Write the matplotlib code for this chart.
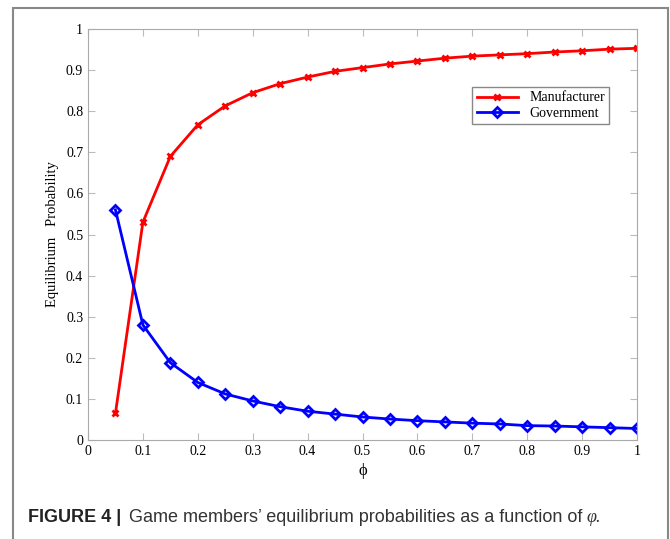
import matplotlib.pyplot as plt
from matplotlib.patches import Rectangle

phi = [0.05, 0.1, 0.15, 0.2, 0.25, 0.3, 0.35, 0.4, 0.45, 0.5,
       0.55, 0.6, 0.65, 0.7, 0.75, 0.8, 0.85, 0.9, 0.95, 1.0]
manufacturer = [0.065, 0.53, 0.69, 0.767, 0.813, 0.845, 0.867, 0.883, 0.897, 0.906,
                0.915, 0.922, 0.929, 0.934, 0.937, 0.940, 0.944, 0.947, 0.951, 0.953]
government = [0.56, 0.28, 0.188, 0.14, 0.112, 0.095, 0.081, 0.07, 0.063, 0.056,
              0.051, 0.047, 0.044, 0.041, 0.039, 0.035, 0.034, 0.032, 0.030, 0.028]
xticks = [0, 0.1, 0.2, 0.3, 0.4, 0.5, 0.6, 0.7, 0.8, 0.9, 1]
xticklabels = ['0', '0.1', '0.2', '0.3', '0.4', '0.5', '0.6', '0.7', '0.8', '0.9', '1']
yticks = [0, 0.1, 0.2, 0.3, 0.4, 0.5, 0.6, 0.7, 0.8, 0.9, 1]
yticklabels = ['0', '0.1', '0.2', '0.3', '0.4', '0.5', '0.6', '0.7', '0.8', '0.9', '1']

plt.rcParams['font.family'] = ['Liberation Serif', 'DejaVu Serif']

fig = plt.figure(figsize=(6.7, 5.39), dpi=100)
ax = fig.add_axes([88 / 670, 99 / 539, 549 / 670, 411 / 539])

ax.plot(phi, manufacturer, color='red', lw=2, marker='x', ms=5, mew=2,
        label='Manufacturer')
ax.plot(phi, government, color='blue', lw=2, marker='D', ms=5, mew=2,
        mfc='none', label='Government')

ax.set_xlim(0, 1)
ax.set_ylim(0, 1)
ax.set_xticks(xticks)
ax.set_xticklabels(xticklabels)
ax.set_yticks(yticks)
ax.set_yticklabels(yticklabels)
ax.tick_params(direction='in', length=5, color='#bbbbbb', labelsize=10,
               top=True, right=True)
for s in ax.spines.values():
    s.set_color('#aaaaaa')
ax.set_xlabel('ϕ', fontsize=12, labelpad=4)
ax.set_ylabel('Equilibrium   Probability', fontsize=10.5, labelpad=5)

leg = ax.legend(loc='upper right', bbox_to_anchor=(0.962, 0.875), fontsize=10,
                fancybox=False, edgecolor='#888888', borderpad=0.3,
                handlelength=3, labelspacing=0.2, framealpha=1)
leg.get_frame().set_linewidth(1)

# outer figure frame
fig.patches.append(Rectangle((13 / 670, -0.05), 655 / 670, 1.05 - 8 / 539,
                             transform=fig.transFigure, fill=False,
                             edgecolor='#888888', lw=1.5))

cap_y = 1 - 517 / 539
sans = ['Liberation Sans Narrow', 'Liberation Sans', 'DejaVu Sans']
fig.text(28 / 670, cap_y, 'FIGURE 4 |', fontsize=13, fontweight='bold',
         family=sans, va='center', color='#222222')
fig.text(129 / 670, cap_y, 'Game members’ equilibrium probabilities as a function of ',
         fontsize=13, family=sans, va='center', color='#333333')
fig.text(586 / 670, cap_y, 'φ.', fontsize=13, style='italic',
         family=['Liberation Serif', 'DejaVu Serif'], va='center', color='#333333')

fig.savefig('out.png', dpi=100)
